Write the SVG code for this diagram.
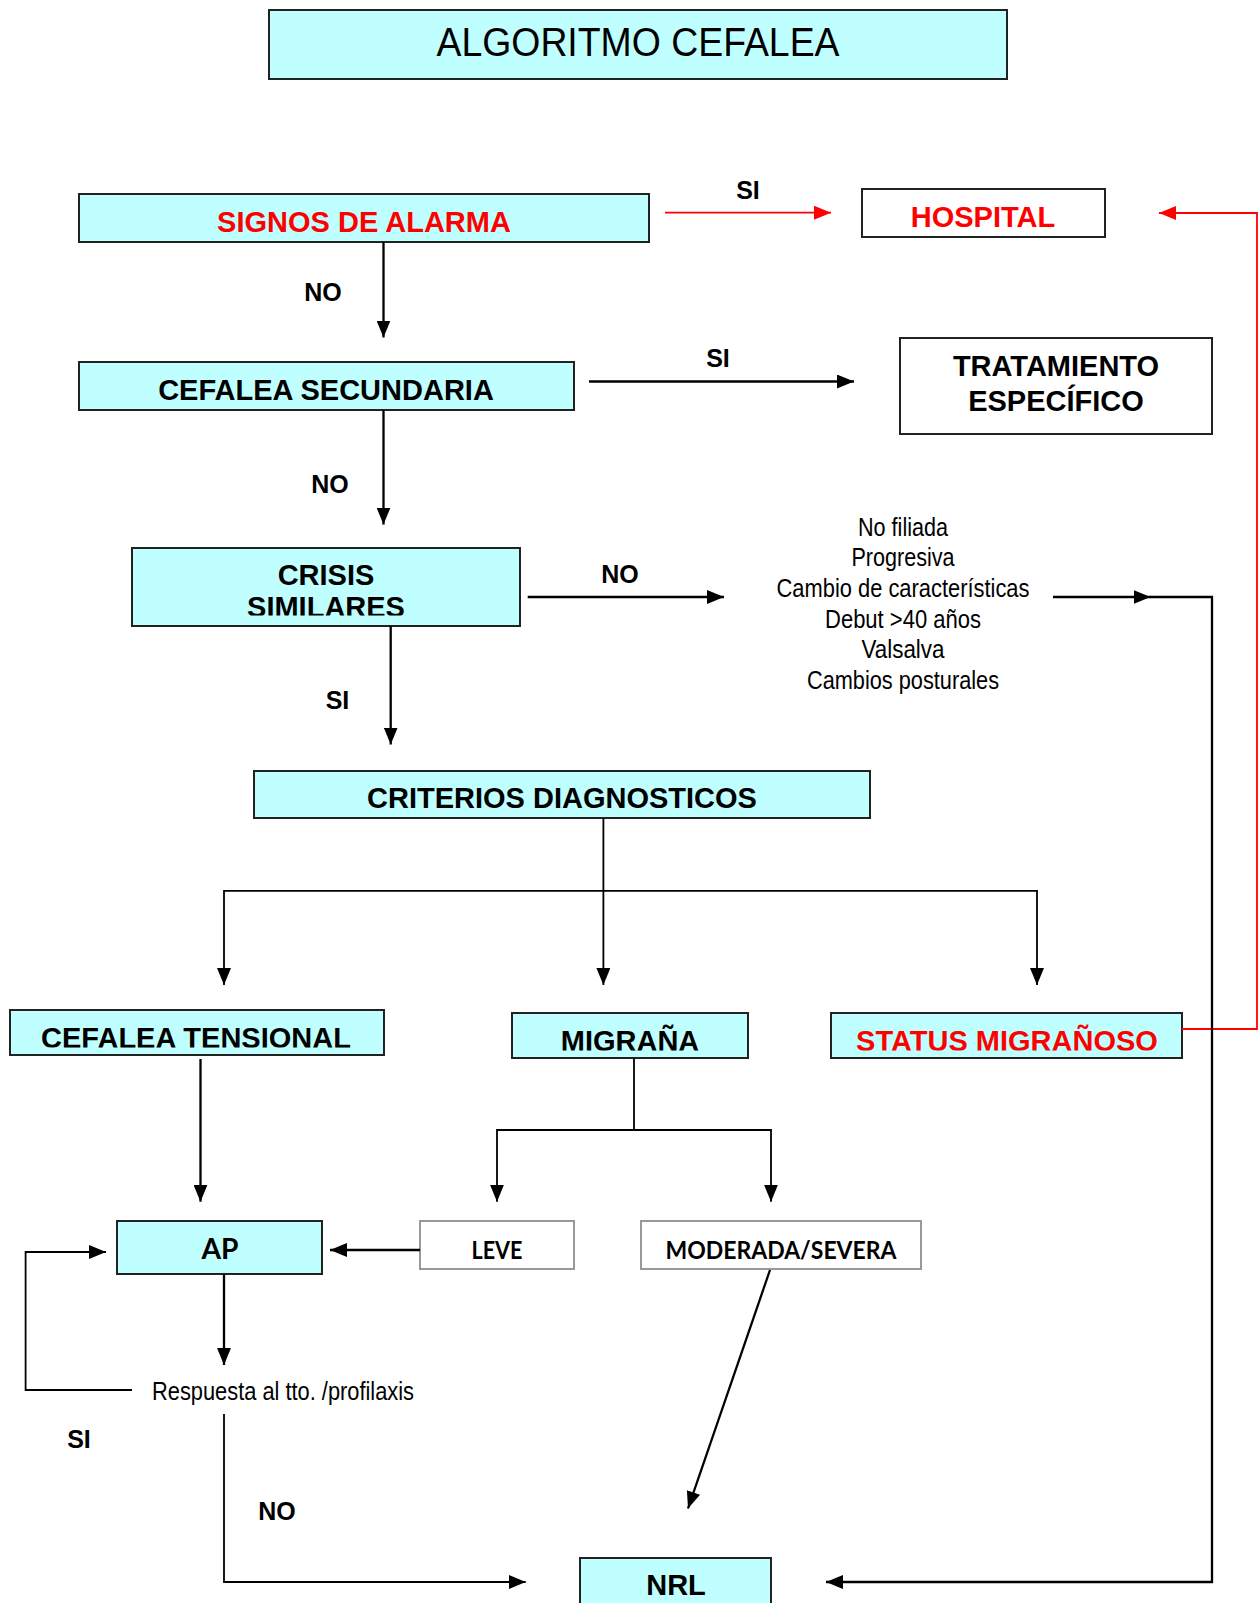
<svg xmlns="http://www.w3.org/2000/svg" width="1260" height="1603" viewBox="0 0 1260 1603">
<style>
.box{fill:#C0FFFF;stroke:#222;stroke-width:2}
.wbox{fill:#fff;stroke:#222;stroke-width:2}
.gbox{fill:#fff;stroke:#999;stroke-width:2}
.b{font-family:"Liberation Sans",Arial,sans-serif;font-weight:bold;font-size:29px;text-anchor:middle;fill:#000}
.red{fill:#FF0000}
.lbl{font-family:"Liberation Sans",Arial,sans-serif;font-weight:bold;font-size:25px;text-anchor:middle;fill:#000}
.n{font-family:"Liberation Sans",Arial,sans-serif;font-size:25px;text-anchor:middle;fill:#000}
.c{font-family:Lato,"Liberation Sans",sans-serif;font-weight:bold;text-anchor:middle;fill:#000}
.ln{fill:none;stroke:#000;stroke-width:2.3}
.thin{fill:none;stroke:#000;stroke-width:1.8}
.rl{fill:none;stroke:#FF0000;stroke-width:1.8}
</style>
<defs>
<marker id="ah" viewBox="0 0 17 14" refX="17" refY="7" markerWidth="17" markerHeight="14" markerUnits="userSpaceOnUse" orient="auto"><path d="M0,0 L17,7 L0,14 z" fill="#000"/></marker>
<marker id="ahr" viewBox="0 0 17 14" refX="17" refY="7" markerWidth="17" markerHeight="14" markerUnits="userSpaceOnUse" orient="auto"><path d="M0,0 L17,7 L0,14 z" fill="#FF0000"/></marker>
<clipPath id="clipCrisis"><rect x="132" y="548" width="388" height="67.5"/></clipPath>
<clipPath id="clipTens"><rect x="10" y="1010" width="374" height="37.5"/></clipPath>
<clipPath id="clipMig"><rect x="512" y="1013" width="236" height="37.5"/></clipPath>
<clipPath id="clipStat"><rect x="831" y="1013" width="352" height="37.5"/></clipPath>
</defs>

<g id="title">
<rect class="box" x="269" y="10" width="738" height="69"/>
<text x="638" y="56" font-family="'Liberation Sans',Arial,sans-serif" font-size="40" text-anchor="middle" textLength="403" lengthAdjust="spacingAndGlyphs">ALGORITMO CEFALEA</text>
</g>

<g id="signos">
<rect class="box" x="79" y="194" width="570" height="48"/>
<text class="b red" x="364" y="232">SIGNOS DE ALARMA</text>
</g>

<g id="hospital">
<rect class="wbox" x="862" y="189" width="243" height="48"/>
<text class="b red" x="983" y="227">HOSPITAL</text>
</g>

<g id="secundaria">
<rect class="box" x="79" y="362" width="495" height="48"/>
<text class="b" x="326" y="400">CEFALEA SECUNDARIA</text>
</g>

<g id="tratamiento">
<rect class="wbox" x="900" y="338" width="312" height="96"/>
<text class="b" x="1056" y="376">TRATAMIENTO</text>
<text class="b" x="1056" y="411">ESPECÍFICO</text>
</g>

<g id="crisis">
<rect class="box" x="132" y="548" width="388" height="78"/>
<text class="b" x="326" y="585">CRISIS</text>
<text class="b" x="326" y="617" clip-path="url(#clipCrisis)">SIMILARES</text>
</g>

<g id="lista">
<text class="n" x="903" y="536" textLength="90" lengthAdjust="spacingAndGlyphs">No filiada</text>
<text class="n" x="903" y="566" textLength="103" lengthAdjust="spacingAndGlyphs">Progresiva</text>
<text class="n" x="903" y="597" textLength="253" lengthAdjust="spacingAndGlyphs">Cambio de características</text>
<text class="n" x="903" y="628" textLength="156" lengthAdjust="spacingAndGlyphs">Debut &gt;40 años</text>
<text class="n" x="903" y="658" textLength="83" lengthAdjust="spacingAndGlyphs">Valsalva</text>
<text class="n" x="903" y="689" textLength="192" lengthAdjust="spacingAndGlyphs">Cambios posturales</text>
</g>

<g id="criterios">
<rect class="box" x="254" y="771" width="616" height="47"/>
<text class="b" x="562" y="808">CRITERIOS DIAGNOSTICOS</text>
</g>

<g id="tensional">
<rect class="box" x="10" y="1010" width="374" height="45"/>
<text class="b" x="196" y="1048" clip-path="url(#clipTens)">CEFALEA TENSIONAL</text>
</g>

<g id="migrana">
<rect class="box" x="512" y="1013" width="236" height="45"/>
<text class="b" x="630" y="1051" clip-path="url(#clipMig)">MIGRAÑA</text>
</g>

<g id="status">
<rect class="box" x="831" y="1013" width="351" height="45"/>
<text class="b red" x="1007" y="1051" clip-path="url(#clipStat)">STATUS MIGRAÑOSO</text>
</g>

<g id="ap">
<rect class="box" x="117" y="1221" width="205" height="53"/>
<text class="c" x="220" y="1259" font-size="29" textLength="37" lengthAdjust="spacingAndGlyphs">AP</text>
</g>

<g id="leve">
<rect class="gbox" x="420" y="1221" width="154" height="48"/>
<text class="c" x="497" y="1259" font-size="25" textLength="51" lengthAdjust="spacingAndGlyphs">LEVE</text>
</g>

<g id="moderada">
<rect class="gbox" x="641" y="1221" width="280" height="48"/>
<text class="c" x="781" y="1259" font-size="25" textLength="231" lengthAdjust="spacingAndGlyphs">MODERADA/SEVERA</text>
</g>

<g id="respuesta">
<text class="n" x="283" y="1400" textLength="262" lengthAdjust="spacingAndGlyphs">Respuesta al tto. /profilaxis</text>
</g>

<g id="nrl">
<rect class="box" x="580" y="1558" width="191" height="50"/>
<text class="b" x="676" y="1595">NRL</text>
</g>

<g id="connectors">
<path class="rl" d="M665,212.7 H831" marker-end="url(#ahr)"/>
<path class="rl" d="M1182,1029 H1257 V213 H1159" marker-end="url(#ahr)"/>
<path class="ln" d="M383.5,242 V337.5" marker-end="url(#ah)"/>
<path class="ln" d="M589,381.5 H854" marker-end="url(#ah)"/>
<path class="ln" d="M383.5,410 V524.6" marker-end="url(#ah)"/>
<path class="ln" d="M527.7,597 H724" marker-end="url(#ah)"/>
<path class="ln" d="M1053,597 H1150.5" marker-end="url(#ah)"/>
<path class="ln" d="M1150,597 H1212 V1582 H826" marker-end="url(#ah)"/>
<path class="ln" d="M390.7,626 V744.5" marker-end="url(#ah)"/>
<path class="thin" d="M603.4,818 V985" marker-end="url(#ah)"/>
<path class="thin" d="M603.4,890.8 H224 V985" marker-end="url(#ah)"/>
<path class="thin" d="M603.4,890.8 H1037 V985" marker-end="url(#ah)"/>
<path class="ln" d="M200.5,1059 V1201.7" marker-end="url(#ah)"/>
<path class="thin" d="M634,1058.5 V1130"/>
<path class="thin" d="M634,1130 H497 V1201.7" marker-end="url(#ah)"/>
<path class="thin" d="M634,1130 H771 V1201.7" marker-end="url(#ah)"/>
<path class="ln" d="M420,1250 H330" marker-end="url(#ah)"/>
<path class="ln" d="M224,1274.3 V1365" marker-end="url(#ah)"/>
<path class="thin" d="M132,1390 H25.6 V1252 H106" marker-end="url(#ah)"/>
<path class="thin" d="M224,1414 V1582 H525.7" marker-end="url(#ah)"/>
<path class="ln" d="M770,1270 L688,1508.5" marker-end="url(#ah)"/>
<text class="lbl" x="748" y="199">SI</text>
<text class="lbl" x="323" y="300.5">NO</text>
<text class="lbl" x="718" y="367">SI</text>
<text class="lbl" x="330" y="493">NO</text>
<text class="lbl" x="620" y="583">NO</text>
<text class="lbl" x="337.5" y="708.5">SI</text>
<text class="lbl" x="79" y="1448">SI</text>
<text class="lbl" x="277" y="1519.5">NO</text>
</g>
</svg>
